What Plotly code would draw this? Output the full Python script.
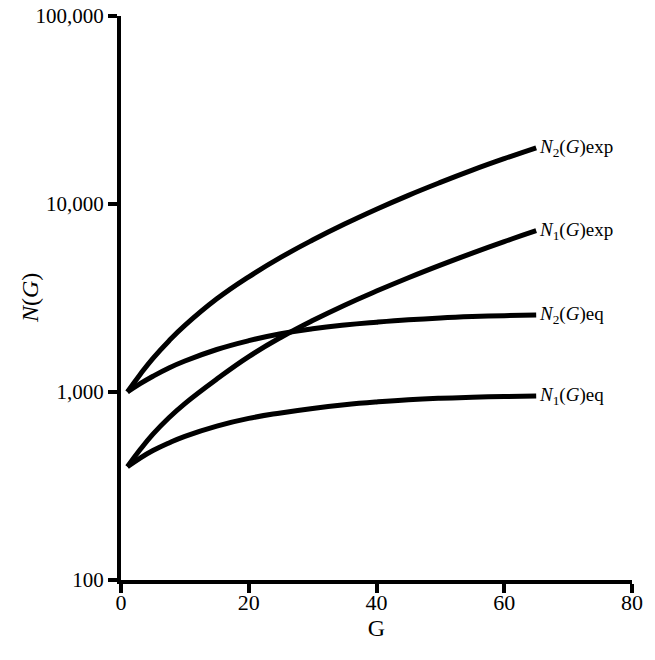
import math
import plotly.graph_objects as go

G = [1, 3, 5, 7.5, 10, 15, 20, 25, 30, 35, 40, 45, 50, 55, 60, 65]
n2_exp = [1000, 1240, 1510, 1870, 2260, 3130, 4100, 5200, 6430, 7820, 9380, 11120, 13030, 15140, 17420, 19900]
n1_exp = [400, 494, 597, 730, 868, 1171, 1543, 1950, 2399, 2897, 3443, 4055, 4732, 5483, 6310, 7211]
n2_eq = [1000, 1107, 1213, 1343, 1462, 1683, 1875, 2042, 2170, 2270, 2350, 2421, 2477, 2518, 2547, 2570]
n1_eq = [400, 445, 488, 536, 581, 659, 724, 774, 818, 855, 885, 910, 927, 938, 946, 953]

series = [
    ("<i>N</i><sub>2</sub>(<i>G</i>)exp", n2_exp),
    ("<i>N</i><sub>1</sub>(<i>G</i>)exp", n1_exp),
    ("<i>N</i><sub>2</sub>(<i>G</i>)eq", n2_eq),
    ("<i>N</i><sub>1</sub>(<i>G</i>)eq", n1_eq),
]

y_tickvals = [100, 1000, 10000, 100000]
y_ticktext = ["100", "1,000", "10,000", "100,000"]
x_tickvals = [0, 20, 40, 60, 80]

serif = "Liberation Serif, Times New Roman, serif"

fig = go.Figure()
for name, vals in series:
    fig.add_trace(go.Scatter(x=G, y=vals, mode="lines", name=name,
                             line=dict(color="black", width=5, shape="spline", smoothing=1.3),
                             showlegend=False, hoverinfo="skip"))
    fig.add_annotation(x=G[-1], y=math.log10(vals[-1]), yref="y", xref="x",
                       text=name, showarrow=False, xanchor="left", yanchor="middle",
                       xshift=1, font=dict(family=serif, size=19, color="black"))

# y-axis title placed as a rotated text label
fig.add_annotation(x=0, y=0.5, xref="paper", yref="paper", xshift=-91,
                   text="<i>N</i>(<i>G</i>)", textangle=-90, showarrow=False,
                   xanchor="center", yanchor="middle",
                   font=dict(family=serif, size=24, color="black"))

fig.update_layout(
    width=655, height=660,
    margin=dict(l=121, r=23, t=16, b=80),
    paper_bgcolor="white", plot_bgcolor="white",
    font=dict(family=serif, size=18, color="black"),
)
fig.update_xaxes(range=[0, 80], tickvals=x_tickvals, ticks="outside", ticklen=9, tickwidth=4,
                 tickcolor="black", showline=True, linewidth=4, linecolor="black",
                 showgrid=False, zeroline=False, tickfont=dict(family=serif, size=22),
                 ticklabelstandoff=-9, automargin=True,
                 title=dict(text="G", font=dict(family=serif, size=24), standoff=2))
fig.update_yaxes(type="log", range=[2, 5], tickvals=y_tickvals, ticktext=y_ticktext,
                 ticks="outside", ticklen=9, tickwidth=4, tickcolor="black",
                 showline=True, linewidth=4, linecolor="black", showgrid=False, zeroline=False,
                 tickfont=dict(family=serif, size=21), automargin=False)

fig.write_html("out.html", config={"displayModeBar": False},
               post_script="document.body.style.margin='0';")
